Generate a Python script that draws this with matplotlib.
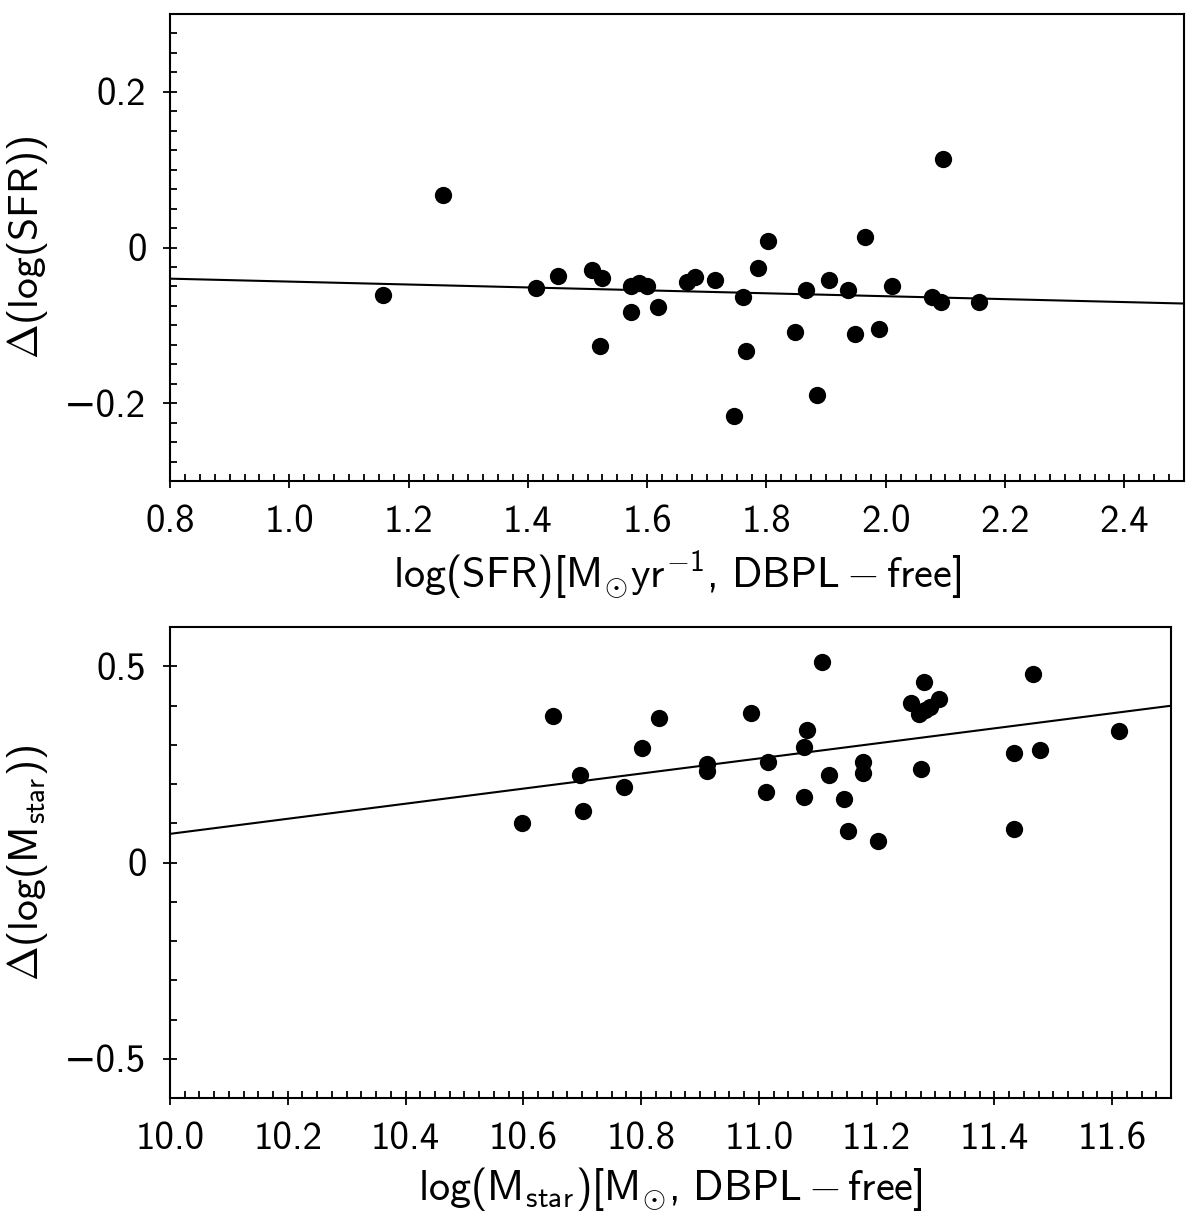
import matplotlib
matplotlib.use('Agg')
import matplotlib.pyplot as plt
import numpy as np
from matplotlib.ticker import MultipleLocator, FuncFormatter

# SFR panel data
sfr_x = [1.157, 1.258, 1.414, 1.450, 1.507, 1.525, 1.521, 1.573, 1.573, 1.586,
         1.600, 1.618, 1.666, 1.680, 1.713, 1.745, 1.761, 1.766, 1.785, 1.802,
         1.847, 1.867, 1.884, 1.904, 1.937, 1.949, 1.966, 1.989, 2.010, 2.078,
         2.092, 2.096, 2.157]
sfr_dy = [-0.061, 0.067, -0.052, -0.036, -0.029, -0.039, -0.127, -0.083, -0.049, -0.046,
          -0.049, -0.076, -0.044, -0.038, -0.042, -0.217, -0.064, -0.133, -0.026, 0.008,
          -0.108, -0.055, -0.189, -0.042, -0.055, -0.111, 0.014, -0.105, -0.049, -0.063,
          -0.070, 0.114, -0.070]
sfr_fit = (-0.0188, -0.025)  # slope, intercept

# stellar mass panel data
mst_x = [10.598, 10.651, 10.697, 10.701, 10.771, 10.801, 10.830, 10.912, 10.912, 10.987,
         11.012, 11.016, 11.077, 11.082, 11.077, 11.107, 11.119, 11.144, 11.152, 11.177,
         11.177, 11.202, 11.259, 11.272, 11.283, 11.291, 11.306, 11.276, 11.280, 11.433,
         11.433, 11.466, 11.478, 11.611]
mst_dy = [0.100, 0.373, 0.224, 0.130, 0.193, 0.292, 0.367, 0.252, 0.234, 0.380,
          0.180, 0.255, 0.167, 0.338, 0.293, 0.511, 0.224, 0.162, 0.081, 0.257,
          0.229, 0.056, 0.406, 0.379, 0.388, 0.396, 0.417, 0.237, 0.460, 0.280,
          0.086, 0.479, 0.286, 0.336]
mst_fit = (0.192, -1.847)

plt.rcParams['font.family'] = ['cmss10', 'DejaVu Sans']
plt.rcParams['mathtext.fontset'] = 'custom'
plt.rcParams['mathtext.rm'] = 'cmss10'
plt.rcParams['mathtext.it'] = 'cmss10'
plt.rcParams['mathtext.bf'] = 'cmss10'
plt.rcParams['font.size'] = 28
plt.rcParams['axes.linewidth'] = 1.5


def fmt(v, pos):
    if abs(v) < 1e-9:
        return '0'
    s = f'{v:.1f}'
    return s.replace('-', '\u2212')


W, H = 1200, 1214
fig = plt.figure(figsize=(W / 100, H / 100), dpi=100)
ax1 = fig.add_axes([170 / W, 1 - 481 / H, (1184 - 170) / W, (481 - 14) / H])
ax2 = fig.add_axes([170 / W, 1 - 1098 / H, (1171 - 170) / W, (1098 - 627) / H])

panels = [
    (ax1, sfr_x, sfr_dy, sfr_fit, (0.8, 2.5), (-0.3, 0.3), 0.2, 0.025, 0.2, 0.025,
     r'$\mathrm{log(SFR)[M_{\odot}yr^{-1},\,DBPL-free]}$', r'$\Delta(\mathrm{log(SFR)})$'),
    (ax2, mst_x, mst_dy, mst_fit, (10.0, 11.7), (-0.6, 0.6), 0.2, 0.025, 0.5, 0.1,
     r'$\mathrm{log(M_{star})[M_{\odot},\,DBPL-free]}$', r'$\Delta(\mathrm{log(M_{star})})$'),
]

for ax, x, y, fit, xlim, ylim, xmaj, xmin, ymaj, ymin, xlab, ylab in panels:
    ax.scatter(x, y, s=155, color='black', linewidths=0, zorder=3)
    xl = np.array(xlim)
    ax.plot(xl, fit[0] * xl + fit[1], color='black', lw=1.5)
    ax.set_xlim(*xlim)
    ax.set_ylim(*ylim)
    ax.xaxis.set_major_locator(MultipleLocator(xmaj))
    ax.xaxis.set_minor_locator(MultipleLocator(xmin))
    ax.yaxis.set_major_locator(MultipleLocator(ymaj))
    ax.yaxis.set_minor_locator(MultipleLocator(ymin))
    ax.yaxis.set_major_formatter(FuncFormatter(fmt))
    ax.tick_params(which='major', direction='inout', length=10, width=1.3, pad=12,
                   top=False, right=False, labelsize=28)
    ax.tick_params(which='minor', direction='in', length=5, width=1.3,
                   top=False, right=False)
    ax.set_xlabel(xlab, fontsize=30.5, labelpad=6)
    ax.set_ylabel(ylab, fontsize=30, labelpad=10)

fig.savefig('out.png', dpi=100)
